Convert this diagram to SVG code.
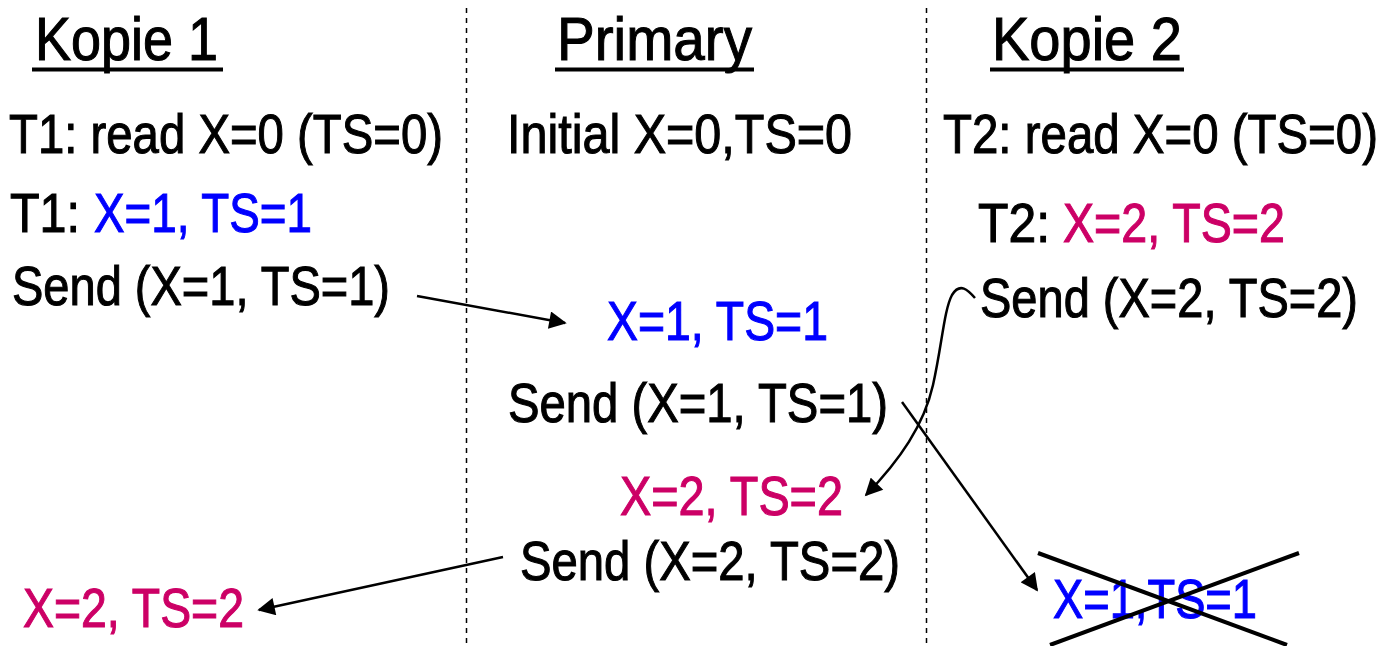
<svg xmlns="http://www.w3.org/2000/svg" width="1394" height="646" viewBox="0 0 1394 646">
<style>
text{font-family:"Liberation Sans Narrow","Arial Narrow","Liberation Sans",sans-serif;font-size:56px;fill:#000;stroke:#000;stroke-width:1.1}
.t{font-size:62px}
.b{fill:#0000FF;stroke:#0000FF}
.m{fill:#CC0066;stroke:#CC0066}
.ul{stroke:#000;stroke-width:4}
.dash{stroke:#000;stroke-width:1.5;stroke-dasharray:5 5;fill:none}
.c{stroke:#000;stroke-width:2.5;fill:none}
.x{stroke:#000;stroke-width:4}
</style>
<defs>
<marker id="ah" viewBox="0 0 10 10" refX="9" refY="5" markerWidth="7.5" markerHeight="7" orient="auto" markerUnits="strokeWidth">
<path d="M0,0 L10,5 L0,10 z" fill="#000"/>
</marker>
</defs>
<rect width="1394" height="646" fill="#fff"/>
<g id="lanes">
<line class="dash" x1="466.5" y1="8" x2="466.5" y2="646"/>
<line class="dash" x1="926.5" y1="8" x2="926.5" y2="646"/>
</g>
<g id="kopie1">
<text class="t" x="35" y="60" textLength="183" lengthAdjust="spacingAndGlyphs">Kopie 1</text>
<line class="ul" x1="32" y1="69.5" x2="223" y2="69.5"/>
<text x="9" y="153" textLength="434" lengthAdjust="spacingAndGlyphs">T1: read X=0 (TS=0)</text>
<text x="10" y="232" textLength="70" lengthAdjust="spacingAndGlyphs">T1:</text>
<text class="b" x="94" y="232" textLength="218" lengthAdjust="spacingAndGlyphs">X=1, TS=1</text>
<text x="12" y="305" textLength="378" lengthAdjust="spacingAndGlyphs">Send (X=1, TS=1)</text>
<text class="m" x="23" y="627" textLength="221" lengthAdjust="spacingAndGlyphs">X=2, TS=2</text>
</g>
<g id="primary">
<text class="t" x="557" y="60" textLength="195" lengthAdjust="spacingAndGlyphs">Primary</text>
<line class="ul" x1="555" y1="69.5" x2="754" y2="69.5"/>
<text x="507" y="153" textLength="345" lengthAdjust="spacingAndGlyphs">Initial X=0,TS=0</text>
<text class="b" x="607" y="340" textLength="221" lengthAdjust="spacingAndGlyphs">X=1, TS=1</text>
<text x="508" y="422" textLength="380" lengthAdjust="spacingAndGlyphs">Send (X=1, TS=1)</text>
<text class="m" x="620" y="515" textLength="223" lengthAdjust="spacingAndGlyphs">X=2, TS=2</text>
<text x="520" y="580" textLength="380" lengthAdjust="spacingAndGlyphs">Send (X=2, TS=2)</text>
</g>
<g id="kopie2">
<text class="t" x="992" y="60" textLength="190" lengthAdjust="spacingAndGlyphs">Kopie 2</text>
<line class="ul" x1="990" y1="69.5" x2="1184" y2="69.5"/>
<text x="943" y="153" textLength="435" lengthAdjust="spacingAndGlyphs">T2: read X=0 (TS=0)</text>
<text x="978" y="242" textLength="72" lengthAdjust="spacingAndGlyphs">T2:</text>
<text class="m" x="1063" y="242" textLength="222" lengthAdjust="spacingAndGlyphs">X=2, TS=2</text>
<text x="980" y="317" textLength="378" lengthAdjust="spacingAndGlyphs">Send (X=2, TS=2)</text>
<text class="b" x="1053" y="618" textLength="204" lengthAdjust="spacingAndGlyphs">X=1,TS=1</text>
<line class="x" x1="1038" y1="553" x2="1287" y2="645"/>
<line class="x" x1="1299" y1="553" x2="1050" y2="645"/>
</g>
<g id="connectors">
<line class="c" x1="417" y1="296" x2="565" y2="323" marker-end="url(#ah)"/>
<path class="c" d="M975,298 C968,290 960,282 952,295 C944,310 942,345 933,385 C924,425 900,460 866,495" marker-end="url(#ah)"/>
<line class="c" x1="902" y1="402" x2="1037" y2="590" marker-end="url(#ah)"/>
<line class="c" x1="503" y1="557" x2="259" y2="610" marker-end="url(#ah)"/>
</g>
</svg>
